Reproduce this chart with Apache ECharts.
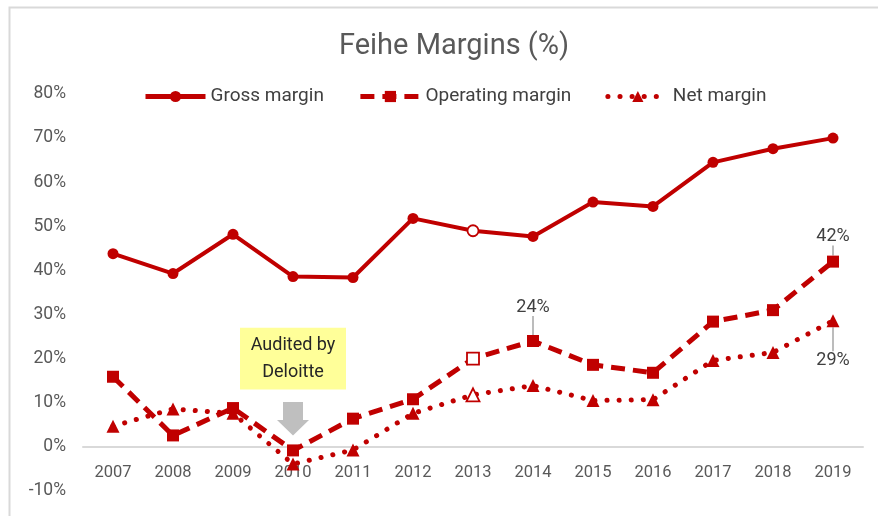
<!DOCTYPE html>
<html>
<head>
<meta charset="utf-8">
<script src="https://cdn.jsdelivr.net/npm/echarts@6/dist/echarts.min.js"></script>
<style>
html,body{margin:0;padding:0;background:#fff;}
#chart{width:878px;height:516px;}
</style>
</head>
<body>
<div id="chart"></div>
<script>
const years = ['2007','2008','2009','2010','2011','2012','2013','2014','2015','2016','2017','2018','2019'];
const grossMargin = [43.8, 39.3, 48.2, 38.6, 38.4, 51.8, 49.0, 47.7, 55.5, 54.5, 64.5, 67.6, 70.0];
const operatingMargin = [15.9, 2.6, 8.8, -0.8, 6.4, 10.8, 20.0, 24.0, 18.6, 16.8, 28.4, 31.0, 42.0];
const netMargin = [4.7, 8.6, 7.6, -3.9, -0.7, 7.6, 11.8, 13.9, 10.5, 10.7, 19.6, 21.4, 28.6];
const yTicks = [-10, 0, 10, 20, 30, 40, 50, 60, 70, 80];
const hollowYear = '2013';
const labelled = {
  operating: {'2014': '24%', '2019': '42%'},
  net: {'2019': '29%'}
};

const RED = '#C00000';
const FONT = "Roboto, 'Liberation Sans', sans-serif";

function buildData(values, key) {
  return values.map((v, i) => {
    const item = {value: v};
    if (years[i] === hollowYear) {
      item.itemStyle = {color: '#fff', borderColor: RED, borderWidth: 1.8};
    }
    if (key && labelled[key][years[i]]) {
      item.label = {show: true, formatter: labelled[key][years[i]]};
    }
    return item;
  });
}

const chart = echarts.init(document.getElementById('chart'), null, {renderer: 'canvas'});

const labelStyle = {color: '#404040', fontSize: 18, fontFamily: FONT};

const option = {
  backgroundColor: '#fff',
  animation: false,
  title: {
    text: 'Feihe Margins (%)',
    left: 449,
    textAlign: 'center',
    top: 27,
    textStyle: {color: '#595959', fontSize: 29, fontWeight: 'normal', fontFamily: FONT}
  },
  legend: {
    top: 82,
    left: 138,
    itemWidth: 60,
    itemHeight: 14,
    itemGap: 34,
    lineStyle: {width: 5},
    textStyle: {color: '#404040', fontSize: 19, fontFamily: FONT},
    data: ['Gross margin', 'Operating margin', 'Net margin']
  },
  grid: {left: 83, right: 15, top: 94, bottom: 25, containLabel: false, outerBoundsMode: 'none'},
  xAxis: {
    type: 'category',
    data: years,
    boundaryGap: true,
    axisLine: {onZero: true, lineStyle: {color: '#d9d9d9', width: 2}},
    axisTick: {show: false},
    axisLabel: {color: '#595959', fontSize: 16.5, fontFamily: FONT, margin: -27}
  },
  yAxis: {
    type: 'value',
    min: yTicks[0],
    max: yTicks[yTicks.length - 1],
    interval: 10,
    axisLine: {show: false},
    axisTick: {show: false},
    splitLine: {show: false},
    axisLabel: {color: '#595959', fontSize: 17.5, fontFamily: FONT, margin: 17, formatter: '{value}%'}
  },
  series: [
    {
      name: 'Gross margin',
      type: 'line',
      data: buildData(grossMargin, null),
      symbol: 'circle',
      symbolSize: 11,
      lineStyle: {color: RED, width: 4},
      itemStyle: {color: RED},
      z: 3
    },
    {
      name: 'Operating margin',
      type: 'line',
      data: buildData(operatingMargin, 'operating'),
      symbol: 'rect',
      symbolSize: 12,
      lineStyle: {color: RED, width: 5, type: [14, 8]},
      itemStyle: {color: RED},
      label: Object.assign({show: false, position: 'top'}, labelStyle),
      labelLine: {show: true, lineStyle: {color: '#a6a6a6', width: 1.5}},
      labelLayout: function (p) {
        if (p.dataIndex === 7) return {dy: -14};
        if (p.dataIndex === 12) return {dy: -5};
        return {};
      },
      z: 4
    },
    {
      name: 'Net margin',
      type: 'line',
      data: buildData(netMargin, 'net'),
      symbol: 'triangle',
      symbolSize: 13,
      lineStyle: {color: RED, width: 5, type: [0.1, 12], cap: 'round'},
      itemStyle: {color: RED},
      label: Object.assign({show: false, position: 'bottom'}, labelStyle),
      labelLine: {show: true, lineStyle: {color: '#a6a6a6', width: 1.5}},
      labelLayout: function (p) {
        if (p.dataIndex === 12) return {dy: 19};
        return {};
      },
      z: 5
    }
  ]
};

chart.setOption(option);

// Annotation: "Audited by Deloitte" box and arrow pointing at 2010
const x2010 = chart.convertToPixel({xAxisIndex: 0}, '2010');
const yBoxTop = chart.convertToPixel({yAxisIndex: 0}, 27);
const yBoxBot = chart.convertToPixel({yAxisIndex: 0}, 13);
const yArrowTop = chart.convertToPixel({yAxisIndex: 0}, 10.2);
const yArrowHead = chart.convertToPixel({yAxisIndex: 0}, 6.1);
const yArrowTip = chart.convertToPixel({yAxisIndex: 0}, 2.6);

chart.setOption({
  graphic: [
    {
      type: 'rect',
      left: 7, top: 5,
      shape: {x: 0, y: 0, width: 900, height: 600},
      style: {fill: 'none', stroke: '#d9d9d9', lineWidth: 2},
      silent: true, z: -1
    },
    {
      type: 'rect',
      shape: {x: x2010 - 53, y: yBoxTop, width: 106, height: yBoxBot - yBoxTop},
      style: {fill: '#FFFF99', stroke: 'none'},
      z: 10
    },
    {
      type: 'text',
      x: x2010, y: (yBoxTop + yBoxBot) / 2,
      style: {
        text: 'Audited by\nDeloitte',
        fill: '#262626',
        font: '18px ' + FONT,
        align: 'center',
        verticalAlign: 'middle',
        lineHeight: 27
      },
      z: 11
    },
    {
      type: 'polygon',
      shape: {
        points: [
          [x2010 - 10, yArrowTop], [x2010 + 10, yArrowTop],
          [x2010 + 10, yArrowHead], [x2010 + 16, yArrowHead],
          [x2010, yArrowTip],
          [x2010 - 16, yArrowHead], [x2010 - 10, yArrowHead]
        ]
      },
      style: {fill: '#BFBFBF'},
      z: 10
    }
  ]
});
</script>
</body>
</html>
